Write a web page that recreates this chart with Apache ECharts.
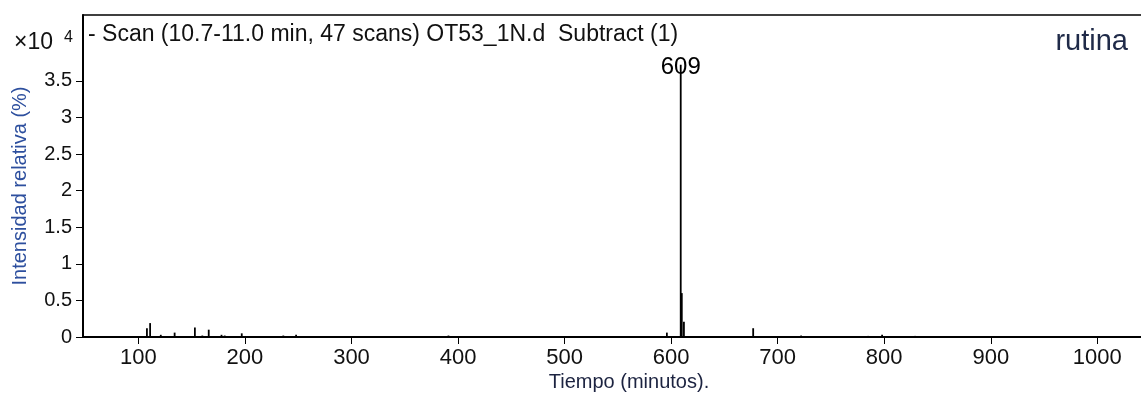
<!DOCTYPE html>
<html>
<head>
<meta charset="utf-8">
<script src="https://cdn.jsdelivr.net/npm/echarts@6/dist/echarts.min.js"></script>
<style>
html,body{margin:0;padding:0;background:#fff;}
#c{width:1141px;height:397px;}
</style>
</head>
<body>
<div id="c"></div>
<script>
// m/z (x) positions of peaks and their intensities (x10^4)
const peakX = [108, 111, 121, 134, 153, 160, 166, 178, 181, 197, 236, 248, 265, 305, 350, 391, 431, 468, 520, 596, 609, 610, 612, 677, 700, 722, 755, 785, 798, 829, 870, 960];
const peakY = [0.12, 0.19, 0.03, 0.06, 0.13, 0.02, 0.10, 0.03, 0.02, 0.05, 0.02, 0.03, 0.01, 0.01, 0.01, 0.02, 0.015, 0.01, 0.01, 0.06, 3.72, 0.60, 0.21, 0.12, 0.01, 0.02, 0.01, 0.015, 0.03, 0.015, 0.01, 0.01];
const xTicks = [100, 200, 300, 400, 500, 600, 700, 800, 900, 1000];
const yTicks = [0, 0.5, 1, 1.5, 2, 2.5, 3, 3.5];
const xRange = [48, 1041];
const yRange = [0, 4.4];
const titleText = '- Scan (10.7-11.0 min, 47 scans) OT53_1N.d  Subtract (1)';
const tagText = 'rutina';
const xName = 'Tiempo (minutos).';
const yName = 'Intensidad relativa (%)';
const labelPeak = 609;

const FONT = '"Liberation Sans", Arial, sans-serif';
const data = peakX.map((x, i) => [x, peakY[i]]);

const chart = echarts.init(document.getElementById('c'), null, {renderer: 'canvas'});
chart.setOption({
  animation: false,
  backgroundColor: '#fff',
  grid: {left: 83, right: 0, top: 15, bottom: 60, containLabel: false},
  xAxis: [{
    type: 'value', min: xRange[0], max: xRange[1],
    axisLine: {show: true, lineStyle: {color: '#000', width: 2}},
    axisTick: {show: true, length: 7, lineStyle: {color: '#000', width: 1}, customValues: xTicks},
    axisLabel: {show: true, customValues: xTicks, margin: 10, color: '#111', fontSize: 22, fontFamily: FONT,
      formatter: v => String(v)},
    splitLine: {show: false}
  }, {
    type: 'value', position: 'top', min: xRange[0], max: xRange[1],
    axisLine: {show: true, lineStyle: {color: '#000', width: 1.5}},
    axisTick: {show: false}, axisLabel: {show: false}, splitLine: {show: false}
  }],
  yAxis: {
    type: 'value', min: yRange[0], max: yRange[1],
    axisLine: {show: true, lineStyle: {color: '#000', width: 2}},
    axisTick: {show: true, length: 7, lineStyle: {color: '#000', width: 1}, customValues: yTicks},
    axisLabel: {show: true, customValues: yTicks, margin: 11, color: '#111', fontSize: 20, fontFamily: FONT,
      formatter: v => String(v)},
    splitLine: {show: false}
  },
  series: [{
    type: 'bar',
    xAxisIndex: 0,
    data: data,
    barWidth: 1.8,
    itemStyle: {color: '#000'},
    label: {
      show: true, position: 'top', distance: -15,
      color: '#000', fontSize: 24, fontFamily: FONT,
      formatter: p => (p.value[0] === labelPeak ? String(labelPeak) : '')
    }
  }],
  graphic: [
    {type: 'text', left: 88, top: 23, style: {text: titleText, fontSize: 23, fontFamily: FONT, fill: '#111'}},
    {type: 'text', right: 13, top: 27, style: {text: tagText, fontSize: 29, fontFamily: FONT, fill: '#1f2a48'}},
    {type: 'text', left: 14, top: 31, style: {text: '\u00d710', fontSize: 23, fontFamily: FONT, fill: '#111'}},
    {type: 'text', left: 64, top: 30, style: {text: '4', fontSize: 16, fontFamily: FONT, fill: '#111'}},
    {type: 'text', x: 629, y: 382, style: {text: xName, fontSize: 20, fontFamily: FONT, fill: '#1c2340', align: 'center', verticalAlign: 'middle'}},
    {type: 'text', x: 20, y: 186, rotation: Math.PI / 2, style: {text: yName, fontSize: 20, fontFamily: FONT, fill: '#2d4f9e', align: 'center', verticalAlign: 'middle'}}
  ]
});
</script>
</body>
</html>
